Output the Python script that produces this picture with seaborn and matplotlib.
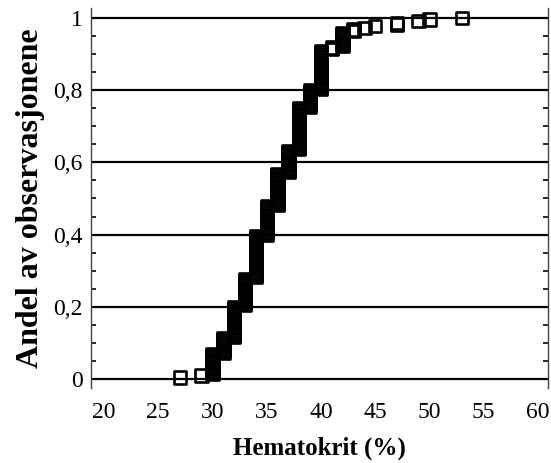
import numpy as np
import pandas as pd
import matplotlib
matplotlib.use("Agg")
import matplotlib.pyplot as plt
from matplotlib.ticker import MultipleLocator, FixedLocator, FixedFormatter
import seaborn as sns

# Hematocrit values (%) and how many observations had each value
hematokrit = [27, 29, 30, 31, 32, 33, 34, 35, 36, 37, 38, 39, 40,
              41, 42, 43, 44, 45, 47, 49, 50, 53]
antall = [1, 1, 13, 10, 19, 17, 26, 18, 20, 14, 26, 11, 24,
          2, 9, 2, 1, 1, 2, 1, 1, 1]

x_ticks = [20, 25, 30, 35, 40, 45, 50, 55, 60]
y_ticks = [0, 0.2, 0.4, 0.6, 0.8, 1.0]
y_tick_labels = ["0", "0,2", "0,4", "0,6", "0,8", "1"]

# Empirical cumulative distribution: one point per observation
obs = np.repeat(hematokrit, antall)
n = len(obs)
df = pd.DataFrame({"hematokrit": np.sort(obs),
                   "andel": np.arange(1, n + 1) / n})

sns.set_theme(style="white")
plt.rcParams["font.family"] = ["Liberation Serif", "DejaVu Serif"]

fig = plt.figure(figsize=(5.51, 4.63), dpi=100)
ax = fig.add_axes([0.165, 0.162, 0.8296, 0.821])

sns.scatterplot(data=df, x="hematokrit", y="andel", ax=ax,
                marker="s", s=80, linewidth=1.9,
                facecolor="none", edgecolor="black", clip_on=False, zorder=3)
coll = ax.collections[-1]
coll.set_facecolor("none")
coll.set_edgecolor("black")

ax.set_xlim(18.8, 60.92)
ax.set_ylim(-0.025, 1.028)

ax.xaxis.set_major_locator(FixedLocator(x_ticks))
ax.yaxis.set_major_locator(FixedLocator(y_ticks))
ax.yaxis.set_major_formatter(FixedFormatter(y_tick_labels))
ax.yaxis.set_minor_locator(MultipleLocator(0.05))

ax.set_axisbelow(True)
ax.yaxis.grid(True, which="major", color="black", linewidth=1.6)
ax.xaxis.grid(False)

for side in ("top", "bottom"):
    ax.spines[side].set_visible(False)
for side in ("left", "right"):
    ax.spines[side].set_visible(True)
    ax.spines[side].set_color("#444444")
    ax.spines[side].set_linewidth(1.0)

ax.tick_params(axis="x", which="major", length=0, pad=10, labelsize=17,
               colors="black")
ax.tick_params(axis="y", which="major", length=0, pad=6, labelsize=17,
               colors="black")
ax.tick_params(axis="y", which="minor", left=True, right=True,
               direction="in", length=3.5, width=1.2, color="black")

ax.set_xlabel("Hematokrit (%)", fontsize=18, fontweight="bold", labelpad=10,
              color="black")
ax.set_ylabel("Andel av observasjonene", fontsize=23, fontweight="bold",
              labelpad=6, color="black")

fig.savefig("out.png", dpi=100)
